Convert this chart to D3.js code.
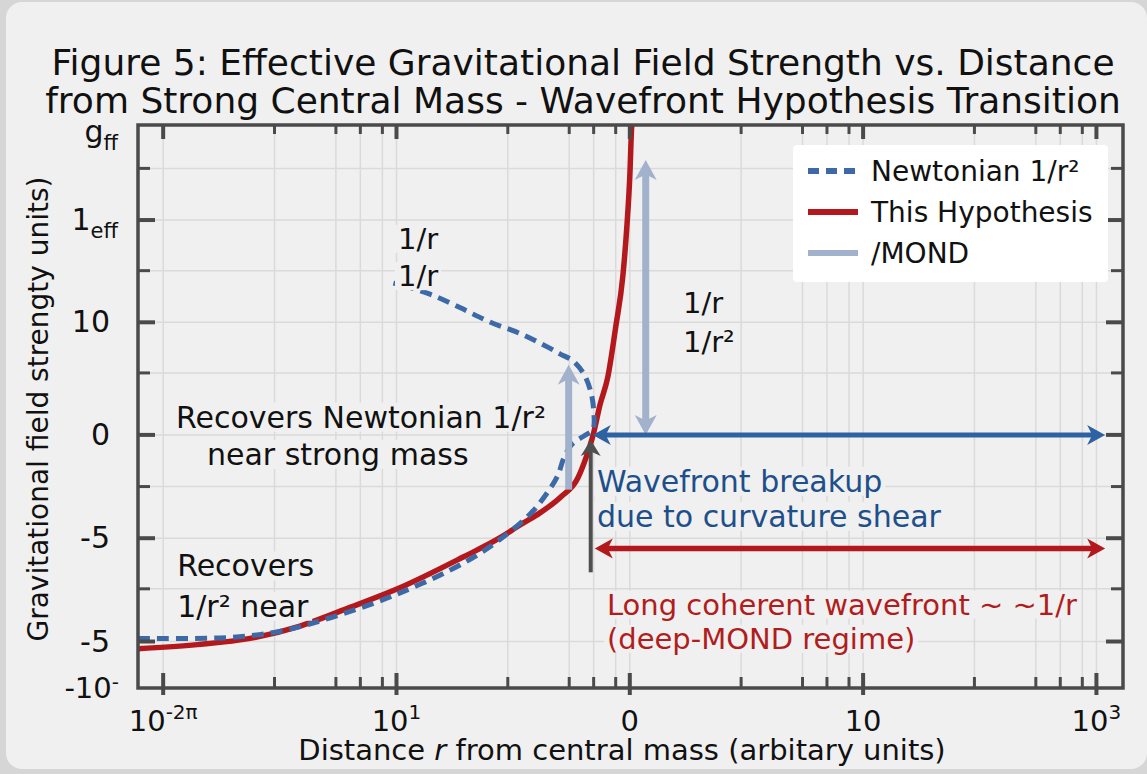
<!DOCTYPE html>
<html>
<head>
<meta charset="utf-8">
<title>Figure 5: Effective Gravitational Field Strength</title>
<style>
  body { margin: 0; background: #d6d6d6; }
  text { font-family: "DejaVu Sans", sans-serif; fill: #111; }
</style>
</head>
<body>
<script src="https://cdn.jsdelivr.net/npm/d3@7"></script>
<script>
var W = 1147, H = 774;

// x axis: one major tick per decade, printed labels are the figure's own
var xMajor = [1, 10, 100, 1000, 10000],
    xMajorBase = ["10", "10", "0", "10", "10"],
    xMajorSup = ["-2\u03c0", "1", "", "", "3"],
    xMinorMult = [3, 5.5, 7, 8.7];

// y axis: positions in plot units, labels as printed
var yMajor = [-2, -1, 0, 1.09, 2.08],
    yMajorLabels = ["-5", "-5", "0", "10", "1"],
    yMajorSub = ["", "", "", "", "eff"],
    yMinor = [-1.49, -0.5, 0.6, 1.59, 2.58];

// "This Hypothesis" curve
var hypR = [0.78, 1.40, 2.36, 3.86, 6.32, 10.1, 19.4, 27.1, 34.0, 41.5, 50.6, 59.8, 64.7, 70.0, 74.5, 80.5, 87.1, 93.3, 97.1, 100, 102, 104],
    hypG = [-2.07, -2.03, -1.97, -1.85, -1.67, -1.49, -1.18, -1.01, -0.87, -0.75, -0.60, -0.42, -0.23, 0.02, 0.29, 0.56, 1.05, 1.53, 2.01, 2.50, 3.0, 3.1];

// "Newtonian 1/r^2" curve (folds back on itself)
var newtR = [0.78, 1.94, 3.18, 5.21, 10.1, 19.4, 27.1, 37.6, 44.6, 49.2, 52.2, 56.5, 63.6, 69.4, 70.0, 68.0, 63.5, 56.9, 50.6, 44.5, 34.0, 25.3, 18.8, 14.0, 10.9, 9.7],
    newtG = [-1.97, -1.96, -1.90, -1.77, -1.54, -1.24, -1.03, -0.76, -0.55, -0.39, -0.22, -0.09, -0.01, 0.05, 0.24, 0.42, 0.59, 0.72, 0.78, 0.85, 0.98, 1.09, 1.23, 1.36, 1.44, 1.47];

// arrows: [x1, y1, x2, y2]
var mondUp = [54.7, -0.53, 54.7, 0.68],
    mondSpan = [117, 0.0, 117, 2.66],
    breakupArrow = [69.4, 0.0, 10900, 0.0],
    coherentArrow = [70.8, -1.10, 10900, -1.10],
    markerArrow = [68.0, -1.33, 68.0, -0.05];

var pL = 138, pR = 1123, pT = 125, pB = 688;

var x = d3.scaleLog().domain([0.78, 13000]).range([pL, pR]);
var y = d3.scaleLinear().domain([-2.45, 3.0]).range([pB, pT]);

var svg = d3.select("body").append("svg")
    .attr("width", W)
    .attr("height", H);

svg.append("rect")
    .attr("x", 6).attr("y", 2)
    .attr("width", W - 6).attr("height", H - 7)
    .attr("rx", 16)
    .attr("fill", "#f0f0f0");

svg.append("clipPath").attr("id", "plotclip")
  .append("rect")
    .attr("x", pL).attr("y", pT)
    .attr("width", pR - pL).attr("height", pB - pT);

// minor x positions between the major decades
var xMinor = [];
xMajor.slice(0, 4).forEach(function(d) {
    xMinorMult.forEach(function(m) { xMinor.push(d * m); });
});

// grid
var grid = svg.append("g").attr("stroke", "#dadada").attr("stroke-width", 1.5);
grid.selectAll(".vg").data(xMajor.concat(xMinor)).enter().append("line")
    .attr("x1", function(d) { return x(d); }).attr("x2", function(d) { return x(d); })
    .attr("y1", pT).attr("y2", pB);
grid.selectAll(".hg").data(yMajor.concat(yMinor)).enter().append("line")
    .attr("x1", pL).attr("x2", pR)
    .attr("y1", function(d) { return y(d); }).attr("y2", function(d) { return y(d); });

var plot = svg.append("g").attr("clip-path", "url(#plotclip)");

var hypLine = d3.line()
    .x(function(d) { return x(d[0]); })
    .y(function(d) { return y(d[1]); })
    .curve(d3.curveMonotoneX);

var newtLine = d3.line()
    .x(function(d) { return x(d[0]); })
    .y(function(d) { return y(d[1]); })
    .curve(d3.curveCatmullRom.alpha(0.5));

plot.append("path")
    .datum(d3.zip(hypR, hypG))
    .attr("d", hypLine)
    .attr("fill", "none")
    .attr("stroke", "#b3191c")
    .attr("stroke-width", 5.5);

plot.append("path")
    .datum(d3.zip(newtR, newtG))
    .attr("d", newtLine)
    .attr("fill", "none")
    .attr("stroke", "#3d6aa6")
    .attr("stroke-width", 5)
    .attr("stroke-dasharray", "12,7");

// arrow with notched heads, computed in pixel space
function arrow(a, color, width, len, half, both) {
    var x1 = x(a[0]), y1 = y(a[1]), x2 = x(a[2]), y2 = y(a[3]);
    var dx = x2 - x1, dy = y2 - y1, d = Math.sqrt(dx * dx + dy * dy);
    var ux = dx / d, uy = dy / d;
    var g = svg.append("g");
    var sx = both ? x1 + ux * len * 0.6 : x1, sy = both ? y1 + uy * len * 0.6 : y1;
    g.append("line")
        .attr("x1", sx).attr("y1", sy)
        .attr("x2", x2 - ux * len * 0.6).attr("y2", y2 - uy * len * 0.6)
        .attr("stroke", color).attr("stroke-width", width);
    function head(tx, ty, vx, vy) {
        var bx = tx - vx * len, by = ty - vy * len;
        var pts = [[tx, ty],
                   [bx - vy * half, by + vx * half],
                   [tx - vx * len * 0.72, ty - vy * len * 0.72],
                   [bx + vy * half, by - vx * half]];
        g.append("path")
            .attr("d", "M" + pts.map(function(p) { return p.join(","); }).join("L") + "Z")
            .attr("fill", color);
    }
    head(x2, y2, ux, uy);
    if (both) head(x1, y1, -ux, -uy);
}

arrow(mondUp, "#a2b2cd", 7, 20, 11, false);
arrow(mondSpan, "#a2b2cd", 7, 20, 11, true);
arrow(breakupArrow, "#2f62a2", 5, 18, 10, true);
arrow(coherentArrow, "#b3191c", 5.5, 18, 10, true);
arrow(markerArrow, "#4f4f4f", 4, 16, 10, false);

// annotations: [text, x, y, colour, size]
var notes = [
    ["1/r", 10.15, 1.80, "#111", 29],
    ["1/r", 10.15, 1.44, "#111", 29],
    ["1/r", 169, 1.18, "#111", 29],
    ["1/r\u00b2", 169, 0.80, "#111", 29],
    ["Recovers Newtonian 1/r\u00b2", 1.135, 0.07, "#111", 30],
    ["near strong mass", 1.54, -0.29, "#111", 30],
    ["Recovers", 1.148, -1.37, "#111", 30],
    ["1/r\u00b2 near", 1.148, -1.76, "#111", 30],
    ["Wavefront breakup", 72.3, -0.55, "#1d4f8b", 30],
    ["due to curvature shear", 72.3, -0.89, "#1d4f8b", 30],
    ["Long coherent wavefront ~ ~1/r", 79.8, -1.74, "#b11d1d", 29],
    ["(deep-MOND regime)", 79.8, -2.07, "#b11d1d", 29]
];
var noteG = svg.append("g");
notes.forEach(function(n) {
    var bg = noteG.append("rect").attr("fill", "#f0f0f0");
    var t = noteG.append("text")
        .attr("x", x(n[1])).attr("y", y(n[2]))
        .style("font-size", n[4] + "px")
        .style("fill", n[3])
        .text(n[0]);
    var b = t.node().getBBox();
    bg.attr("x", b.x - 3).attr("y", b.y + 3).attr("width", b.width + 6).attr("height", b.height - 6);
});

// frame and ticks
var axisCol = "#4a4a4a";
var ticks = svg.append("g").attr("stroke", axisCol);
xMajor.forEach(function(d) {
    ticks.append("line").attr("x1", x(d)).attr("x2", x(d)).attr("y1", pB + 7).attr("y2", pB - 15).attr("stroke-width", 4);
    ticks.append("line").attr("x1", x(d)).attr("x2", x(d)).attr("y1", pT).attr("y2", pT + 14).attr("stroke-width", 4);
});
xMinor.forEach(function(d) {
    ticks.append("line").attr("x1", x(d)).attr("x2", x(d)).attr("y1", pB).attr("y2", pB - 11).attr("stroke-width", 3);
    ticks.append("line").attr("x1", x(d)).attr("x2", x(d)).attr("y1", pT).attr("y2", pT + 9).attr("stroke-width", 3);
});
yMajor.forEach(function(d) {
    ticks.append("line").attr("x1", pL).attr("x2", pL + 17).attr("y1", y(d)).attr("y2", y(d)).attr("stroke-width", 4);
    ticks.append("line").attr("x1", pR).attr("x2", pR - 17).attr("y1", y(d)).attr("y2", y(d)).attr("stroke-width", 4);
});
yMinor.forEach(function(d) {
    ticks.append("line").attr("x1", pL).attr("x2", pL + 12).attr("y1", y(d)).attr("y2", y(d)).attr("stroke-width", 3);
    ticks.append("line").attr("x1", pR).attr("x2", pR - 12).attr("y1", y(d)).attr("y2", y(d)).attr("stroke-width", 3);
});
svg.append("rect")
    .attr("x", pL).attr("y", pT)
    .attr("width", pR - pL).attr("height", pB - pT)
    .attr("fill", "none")
    .attr("stroke", axisCol)
    .attr("stroke-width", 3.5);

// x tick labels
xMajor.forEach(function(d, i) {
    var t = svg.append("text")
        .attr("x", x(d)).attr("y", 731)
        .attr("text-anchor", "middle")
        .style("font-size", "29px")
        .text(xMajorBase[i]);
    if (xMajorSup[i]) {
        t.append("tspan").attr("dy", -12).style("font-size", "20px").text(xMajorSup[i]);
    }
});

// y tick labels
yMajor.forEach(function(d, i) {
    var t = svg.append("text")
        .attr("x", yMajorSub[i] ? 118 : 110).attr("y", y(d) + 10)
        .attr("text-anchor", "end")
        .style("font-size", "30px")
        .text(yMajorLabels[i]);
    if (yMajorSub[i]) {
        t.append("tspan").attr("dy", 8).style("font-size", "21px").text(yMajorSub[i]);
    }
});
svg.append("text")
    .attr("x", 118).attr("y", y(2.93) + 10)
    .attr("text-anchor", "end")
    .style("font-size", "30px")
    .text("g")
  .append("tspan").attr("dy", 8).style("font-size", "21px").text("ff");
svg.append("text")
    .attr("x", 119).attr("y", y(-2.45) + 10)
    .attr("text-anchor", "end")
    .style("font-size", "29px")
    .text("-10")
  .append("tspan").attr("dy", -9).style("font-size", "20px").text("-");

// axis titles
var xl = svg.append("text")
    .attr("x", 622).attr("y", 760)
    .attr("text-anchor", "middle")
    .style("font-size", "29px");
xl.append("tspan").text("Distance ");
xl.append("tspan").style("font-style", "italic").text("r");
xl.append("tspan").text(" from central mass (arbitary units)");

svg.append("text")
    .attr("transform", "translate(48,409) rotate(-90)")
    .attr("text-anchor", "middle")
    .style("font-size", "28px")
    .text("Gravitational field strengty units)");

// title
var title = ["Figure 5: Effective Gravitational Field Strength vs. Distance",
             "from Strong Central Mass - Wavefront Hypothesis Transition"];
svg.selectAll(".title").data(title).enter().append("text")
    .attr("x", 583)
    .attr("y", function(d, i) { return 75 + i * 38; })
    .attr("text-anchor", "middle")
    .style("font-size", "36px")
    .text(function(d) { return d; });

// legend
var legNames = ["Newtonian 1/r\u00b2", "This Hypothesis", "/MOND"],
    legColors = ["#3d6aa6", "#b3191c", "#a2b2cd"],
    legDash = ["11,7", null, null];
var leg = svg.append("g");
leg.append("rect")
    .attr("x", 793).attr("y", 145)
    .attr("width", 315).attr("height", 137)
    .attr("rx", 4)
    .attr("fill", "#ffffff");
legNames.forEach(function(n, i) {
    var ly = 171 + i * 41;
    leg.append("line")
        .attr("x1", 808).attr("x2", 858)
        .attr("y1", ly).attr("y2", ly)
        .attr("stroke", legColors[i])
        .attr("stroke-width", 6)
        .attr("stroke-dasharray", legDash[i]);
    leg.append("text")
        .attr("x", 871).attr("y", ly + 10)
        .style("font-size", "28px")
        .text(n);
});
</script>
</body>
</html>
